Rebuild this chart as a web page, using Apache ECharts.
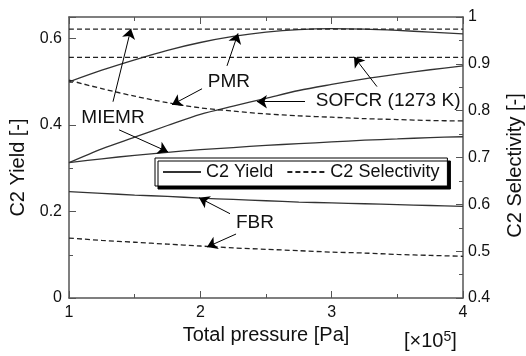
<!DOCTYPE html>
<html>
<head>
<meta charset="utf-8">
<script src="https://cdn.jsdelivr.net/npm/echarts@6/dist/echarts.min.js"></script>
<style>
  html, body { margin: 0; padding: 0; background: #fff; }
  #chart { width: 526px; height: 356px; }
</style>
</head>
<body>
<div id="chart"></div>
<script>
// total pressure [x10^5 Pa]
const pressure = [1, 1.25, 1.5, 1.75, 2, 2.25, 2.5, 2.75, 3, 3.25, 3.5, 3.75, 4];

// C2 yield (left axis)
const pmrYield   = [0.500, 0.527, 0.551, 0.573, 0.591, 0.605, 0.615, 0.621, 0.623, 0.622, 0.619, 0.615, 0.611];
const sofcrYield = [0.313, 0.345, 0.372, 0.399, 0.425, 0.444, 0.462, 0.480, 0.494, 0.507, 0.518, 0.528, 0.537];
const miemrYield = [0.313, 0.322, 0.330, 0.337, 0.343, 0.348, 0.353, 0.357, 0.361, 0.365, 0.368, 0.371, 0.373];
const fbrYield   = [0.246, 0.242, 0.238, 0.235, 0.231, 0.228, 0.225, 0.222, 0.220, 0.218, 0.216, 0.214, 0.212];

// C2 selectivity (right axis)
const miemrSel = [0.974, 0.974, 0.974, 0.974, 0.974, 0.974, 0.974, 0.974, 0.974, 0.974, 0.974, 0.974, 0.974];
const sofcrSel = [0.914, 0.914, 0.914, 0.914, 0.914, 0.914, 0.914, 0.914, 0.914, 0.914, 0.914, 0.914, 0.914];
const pmrSel   = [0.865, 0.847, 0.831, 0.817, 0.806, 0.799, 0.793, 0.789, 0.786, 0.783, 0.781, 0.779, 0.778];
const fbrSel   = [0.528, 0.523, 0.519, 0.515, 0.511, 0.507, 0.504, 0.501, 0.498, 0.496, 0.493, 0.491, 0.489];

// annotation arrows [tail, tip], in (pressure, left-axis) units
const arrows = [
  [[1.335, 0.454], [1.472, 0.623]],
  [[1.381, 0.389], [1.754, 0.338]],
  [[2.203, 0.537], [2.287, 0.612]],
  [[2.013, 0.484], [1.784, 0.447]],
  [[2.797, 0.454], [2.431, 0.454]],
  [[3.345, 0.489], [3.170, 0.558]],
  [[2.226, 0.195], [1.990, 0.232]],
  [[2.272, 0.148], [2.051, 0.118]]
];
const labelNames = ['MIEMR', 'PMR', 'SOFCR (1273 K)', 'FBR'];
const labelPos = [[1.335, 0.417], [2.218, 0.500], [3.43, 0.456], [2.416, 0.174]];

const FONT = 'Liberation Sans, Arial, sans-serif';
const AXIS_COLOR = '#555';

function pairs(ys) {
  return pressure.map((p, i) => [p, ys[i]]);
}

function yieldSeries(ys) {
  return {
    name: 'C2 Yield',
    type: 'line',
    yAxisIndex: 0,
    data: pairs(ys),
    symbol: 'none',
    smooth: 0.3,
    lineStyle: { color: '#333', width: 1.3, type: 'solid' },
    itemStyle: { color: '#333' },
    z: 3
  };
}

function selSeries(ys) {
  return {
    name: 'C2 Selectivity',
    type: 'line',
    yAxisIndex: 1,
    data: pairs(ys),
    symbol: 'none',
    smooth: 0.3,
    lineStyle: { color: '#222', width: 1.3, type: [5, 3] },
    itemStyle: { color: '#222' },
    z: 3
  };
}

const chart = echarts.init(document.getElementById('chart'));

const option = {
  animation: false,
  backgroundColor: '#fff',
  textStyle: { fontFamily: FONT },
  grid: { left: 69, right: 63, top: 17, bottom: 58, containLabel: false, outerBoundsMode: 'none' },
  legend: {
    data: ['C2 Yield', 'C2 Selectivity'],
    left: 155,
    top: 158,
    padding: [5, 8, 5, 7],
    itemGap: 13,
    itemWidth: 38,
    itemHeight: 14,
    itemStyle: { opacity: 0 },
    backgroundColor: '#fff',
    borderColor: '#000',
    borderWidth: 1,
    shadowColor: '#000',
    shadowBlur: 0,
    shadowOffsetX: 3,
    shadowOffsetY: 3,
    textStyle: { fontSize: 18, color: '#111', fontFamily: FONT },
    selectedMode: false
  },
  xAxis: [
    {
      type: 'value',
      min: 1,
      max: 4,
      interval: 1,
      name: 'Total pressure [Pa]',
      nameLocation: 'middle',
      nameGap: 24,
      nameTextStyle: { fontSize: 20, color: '#111', fontFamily: FONT },
      axisLine: { onZero: false, lineStyle: { color: AXIS_COLOR, width: 1.5 } },
      axisTick: { inside: true, length: 7, lineStyle: { color: AXIS_COLOR } },
      minorTick: { show: true, splitNumber: 2, length: 4, lineStyle: { color: AXIS_COLOR } },
      axisLabel: { fontSize: 16, color: '#111', margin: 7, fontFamily: FONT },
      splitLine: { show: false }
    },
    {
      type: 'value',
      position: 'top',
      min: 1,
      max: 4,
      interval: 1,
      axisLine: { onZero: false, lineStyle: { color: AXIS_COLOR, width: 1.5 } },
      axisTick: { inside: true, length: 7, lineStyle: { color: AXIS_COLOR } },
      minorTick: { show: true, splitNumber: 2, length: 4, lineStyle: { color: AXIS_COLOR } },
      axisLabel: { show: false },
      splitLine: { show: false }
    }
  ],
  yAxis: [
    {
      type: 'value',
      position: 'left',
      min: 0,
      max: 0.65,
      interval: 0.2,
      name: 'C2 Yield [-]',
      nameLocation: 'middle',
      nameRotate: 90,
      nameGap: 38,
      nameTextStyle: { fontSize: 20, color: '#111', fontFamily: FONT, padding: [0, 20, 0, 0] },
      axisLine: { show: true, onZero: false, lineStyle: { color: AXIS_COLOR, width: 1.5 } },
      axisTick: { show: true, inside: true, length: 7, lineStyle: { color: AXIS_COLOR } },
      minorTick: { show: true, splitNumber: 2, length: 4, lineStyle: { color: AXIS_COLOR } },
      axisLabel: { fontSize: 16, color: '#111', margin: 7, showMaxLabel: false, fontFamily: FONT },
      splitLine: { show: false }
    },
    {
      type: 'value',
      position: 'right',
      min: 0.4,
      max: 1,
      interval: 0.1,
      name: 'C2 Selectivity [-]',
      nameLocation: 'middle',
      nameRotate: 90,
      nameGap: 42,
      nameTextStyle: { fontSize: 20, color: '#111', fontFamily: FONT, padding: [0, 16, 0, 0] },
      axisLine: { show: true, onZero: false, lineStyle: { color: AXIS_COLOR, width: 1.5 } },
      axisTick: { show: true, inside: true, length: 7, lineStyle: { color: AXIS_COLOR } },
      minorTick: { show: true, splitNumber: 2, length: 4, lineStyle: { color: AXIS_COLOR } },
      axisLabel: {
        fontSize: 16, color: '#111', margin: 5, fontFamily: FONT,
        formatter: v => String(Math.round(v * 10) / 10)
      },
      splitLine: { show: false }
    }
  ],
  series: [
    yieldSeries(pmrYield),
    yieldSeries(sofcrYield),
    yieldSeries(miemrYield),
    yieldSeries(fbrYield),
    selSeries(miemrSel),
    selSeries(sofcrSel),
    selSeries(pmrSel),
    selSeries(fbrSel),
    {
      // arrows and reactor labels
      name: 'annotations',
      type: 'line',
      yAxisIndex: 0,
      data: [],
      silent: true,
      z: 5,
      markLine: {
        silent: true,
        animation: false,
        symbol: ['none', 'arrow'],
        symbolSize: 10,
        label: { show: false },
        lineStyle: { color: '#000', width: 1, type: 'solid' },
        data: arrows.map(a => [{ coord: a[0] }, { coord: a[1] }])
      },
      markPoint: {
        silent: true,
        animation: false,
        symbol: 'circle',
        symbolSize: 0,
        label: {
          show: true,
          position: 'inside',
          formatter: '{b}',
          fontSize: 19,
          color: '#111',
          fontFamily: FONT
        },
        data: labelNames.map((n, i) => ({ name: n, coord: labelPos[i] }))
      }
    }
  ],
  graphic: [
    {
      type: 'text',
      left: 404,
      top: 330,
      style: {
        text: '[×10{sup|5}]',
        font: '20px ' + FONT,
        fill: '#111',
        rich: {
          sup: { fontSize: 14, verticalAlign: 'top', padding: [0, 0, 9, 0], fill: '#111' }
        }
      }
    }
  ]
};

chart.setOption(option);
</script>
</body>
</html>
